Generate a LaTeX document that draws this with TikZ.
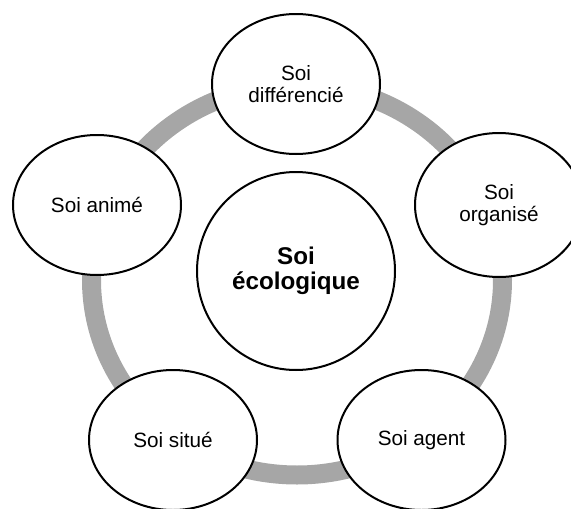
\documentclass[tikz,border=0pt]{standalone}
\usepackage{fontspec}
\setmainfont{Liberation Sans}
\usetikzlibrary{shapes.geometric}
\definecolor{ringgray}{HTML}{A6A6A6}
\begin{document}
\begin{tikzpicture}[x=1pt,y=-1pt,
  facet/.style={ellipse, draw=black, line width=2pt, fill=white,
    minimum width=168pt, minimum height=140pt, inner sep=0pt,
    align=center, font=\fontsize{20.7}{22}\selectfont},
  core/.style={circle, draw=black, line width=2pt, fill=white,
    minimum size=198pt, inner sep=0pt,
    align=center, font=\bfseries\fontsize{24.2}{25}\selectfont}]
\useasboundingbox (0,0) rectangle (571,509);
% grey cycle ring behind the five facets
\coordinate (hub) at (297,280);
\draw[ringgray, line width=19pt] (hub) ellipse [x radius=205.5, y radius=195];
% centre
\node[core] (self) at (296,271) {Soi\\écologique};
% facets around the ring
\node[facet] (diff) at (296,84) {Soi\\différencié};
\node[facet, minimum height=144pt] (org) at (499,205) {Soi\\organisé};
\node[facet] (agent) at (421.5,440) {Soi agent};
\node[facet] (situ) at (173,440) {Soi situé};
\node[facet] (anim) at (97,205) {Soi animé};
\end{tikzpicture}
\end{document}
